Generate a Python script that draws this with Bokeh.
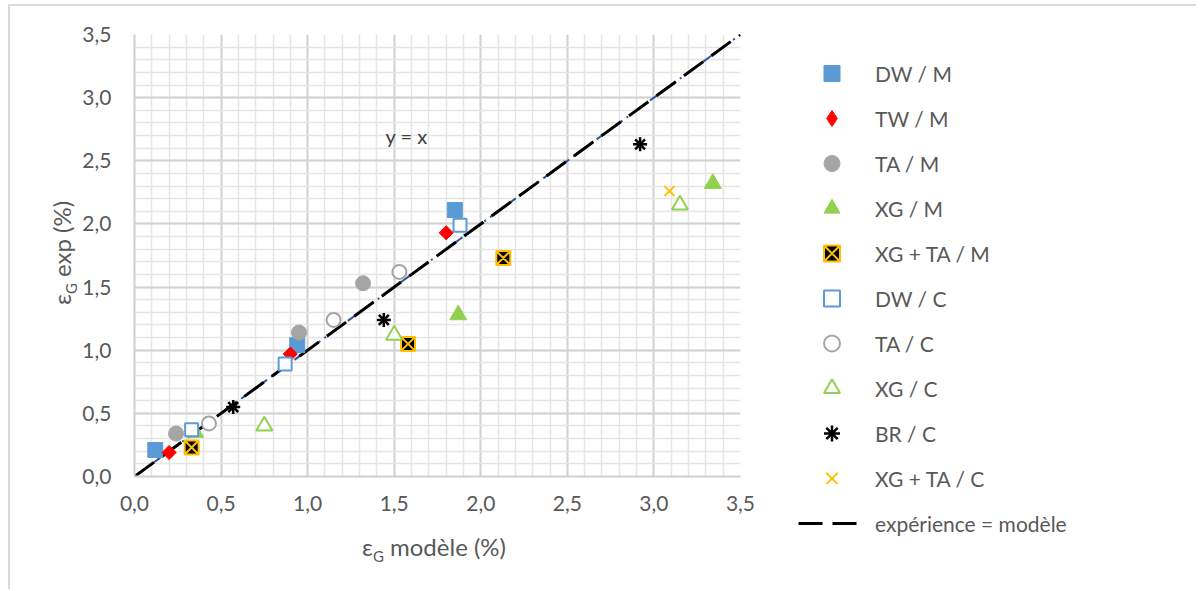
import numpy as np
from bokeh.plotting import figure
from bokeh.models import Legend, LegendItem, Label, FixedTicker, Range1d, Div
from bokeh.embed import file_html
from bokeh.resources import INLINE

# ---- data ----
dw_m_x = [0.12, 0.94, 1.85]
dw_m_y = [0.21, 1.04, 2.11]
tw_m_x = [0.20, 0.90, 1.80]
tw_m_y = [0.19, 0.97, 1.93]
ta_m_x = [0.24, 0.95, 1.32]
ta_m_y = [0.34, 1.14, 1.53]
xg_m_x = [0.35, 1.87, 3.34]
xg_m_y = [0.35, 1.28, 2.32]
xgta_m_x = [0.33, 1.58, 2.13]
xgta_m_y = [0.23, 1.05, 1.73]
dw_c_x = [0.33, 0.87, 1.88]
dw_c_y = [0.37, 0.89, 1.99]
ta_c_x = [0.43, 1.15, 1.53]
ta_c_y = [0.42, 1.24, 1.62]
xg_c_x = [0.75, 1.50, 3.15]
xg_c_y = [0.40, 1.12, 2.15]
br_c_x = [0.57, 1.44, 2.92]
br_c_y = [0.55, 1.24, 2.63]
xgta_c_x = [3.09]
xgta_c_y = [2.26]
ident_x = [0.0, 3.5]
ident_y = [0.0, 3.5]

tick_values = [0.0, 0.5, 1.0, 1.5, 2.0, 2.5, 3.0, 3.5]
tick_labels = ["0,0", "0,5", "1,0", "1,5", "2,0", "2,5", "3,0", "3,5"]
legend_labels = ["DW / M", "TW / M", "TA / M", "XG / M", "XG + TA / M",
                 "DW / C", "TA / C", "XG / C", "BR / C", "XG + TA / C",
                 "expérience = modèle"]
x_title = "ε<sub>G</sub> modèle (%)"
y_title = "ε<sub>G</sub> exp (%)"

FONT = "Lato"
TXT = "#595959"
BLUE = "#5B9BD5"
RED = "#FF0000"
GREY = "#A5A5A5"
GREEN = "#92D050"
GOLD = "#FFC000"

# marker styles shared by the chart and its legend
styles = [
    dict(marker="square", size=15, fill_color=BLUE, line_color=BLUE),
    dict(marker="square", size=10, angle=np.pi / 4, fill_color=RED, line_color=RED),
    dict(marker="circle", size=15, fill_color=GREY, line_color=GREY),
    dict(marker="triangle", size=17, fill_color=GREEN, line_color=GREEN),
    dict(marker="square_x", size=14, fill_color="black", line_color=GOLD, line_width=2),
    dict(marker="square", size=13, fill_color="white", line_color=BLUE, line_width=2),
    dict(marker="circle", size=14, fill_color="white", line_color=GREY, line_width=2),
    dict(marker="triangle", size=16, fill_color="white", line_color=GREEN, line_width=2),
    dict(marker="asterisk", size=14, line_color="black", line_width=2.5),
    dict(marker="x", size=14, line_color=GOLD, line_width=2),
]
# legend swatches ignore marker angle: use a diamond for the TW / M swatch
legend_styles = list(styles)
legend_styles[1] = dict(marker="diamond", size=16, fill_color=RED, line_color=RED)

series = [(dw_m_x, dw_m_y), (tw_m_x, tw_m_y), (ta_m_x, ta_m_y), (xg_m_x, xg_m_y),
          (xgta_m_x, xgta_m_y), (dw_c_x, dw_c_y), (ta_c_x, ta_c_y), (xg_c_x, xg_c_y),
          (br_c_x, br_c_y), (xgta_c_x, xgta_c_y)]
LINE_DASH = "24 10"

p = figure(width=1188, height=585, output_backend="svg", toolbar_location=None,
           x_range=Range1d(0, 3.5), y_range=Range1d(0, 3.5),
           min_border_left=124, min_border_right=458, min_border_top=28,
           min_border_bottom=115, margin=(4, 0, 0, 8),
           styles={"border-left": "2px solid #d9d9d9", "border-top": "2px solid #d9d9d9"})
p.outline_line_color = None
p.background_fill_color = "white"

minor = [round(v, 1) for v in np.arange(0, 3.51, 0.1)]
for ax in (p.xaxis[0], p.yaxis[0]):
    ax.ticker = FixedTicker(ticks=tick_values, minor_ticks=minor)
    ax.major_label_overrides = {t: l for t, l in zip(tick_values, tick_labels)}
    ax.major_label_text_font = FONT
    ax.major_label_text_font_size = "21px"
    ax.major_label_text_color = TXT
    ax.major_tick_line_color = None
    ax.minor_tick_line_color = None
    ax.axis_line_color = "#cfcfcf"
    ax.axis_line_width = 2
p.xaxis.major_label_standoff = 13
p.yaxis.major_label_standoff = 17

for g in (p.xgrid[0], p.ygrid[0]):
    g.grid_line_color = "#d2d2d2"
    g.grid_line_width = 2
    g.minor_grid_line_color = "#e5e5e5"
    g.minor_grid_line_width = 1.5

# identity line: blue dash-dot underneath, black long dash on top
p.line(ident_x, ident_y, line_color="#2F5597", line_width=2, line_dash="10 5 2 5")
p.line(ident_x, ident_y, line_color="black", line_width=3, line_dash=LINE_DASH)

for (sx, sy), st in zip(series, styles):
    p.scatter(sx, sy, **st)

# "y = x" annotation
p.add_layout(Label(x=1.45, y=2.70, text="y = x", text_font=FONT,
                   text_font_size="20px", text_color="#404040", text_baseline="middle"))

# ---- legend (separate canvas placed to the right of the plot area) ----
# its renderers use the same data, but its ranges keep them out of view
pl = figure(width=390, height=500, output_backend="svg", toolbar_location=None,
            x_range=Range1d(100, 101), y_range=Range1d(100, 101),
            x_axis_location=None, y_axis_location=None, min_border=0,
            styles={"position": "absolute", "left": "798px", "top": "53px"})
pl.outline_line_color = None
pl.background_fill_alpha = 0
pl.border_fill_alpha = 0
pl.grid.visible = False
leg_renderers = [pl.scatter(sx, sy, **st) for (sx, sy), st in zip(series, legend_styles)]
leg_renderers.append(pl.line(ident_x, ident_y, line_color="black", line_width=3,
                             line_dash=LINE_DASH))
items = [LegendItem(label=l, renderers=[r]) for l, r in zip(legend_labels, leg_renderers)]
legend = Legend(items=items, location="top_left", orientation="vertical",
                glyph_width=67, glyph_height=40, label_height=40, spacing=5,
                label_standoff=10, padding=0, margin=0,
                border_line_alpha=0, background_fill_alpha=0,
                label_text_font=FONT, label_text_font_size="21px", label_text_color=TXT)
pl.add_layout(legend, "center")

# ---- axis titles with subscript G ----
span_style = ("font-family: Lato; font-size: 24px; color: %s; white-space: nowrap; "
              "line-height: 28px;" % TXT)
sub_style = "font-size: 15px;"


def title_html(t):
    return '<span style="%s">%s</span>' % (
        span_style, t.replace("<sub>", '<sub style="%s">' % sub_style))


xdiv = Div(text=title_html(x_title), width=200, height=28,
           styles={"position": "absolute", "left": "362px", "top": "533px",
                   "margin": "0", "padding": "0"})
ydiv = Div(text=title_html(y_title), width=130, height=28,
           styles={"position": "absolute", "left": "48px", "top": "305px",
                   "transform-origin": "0 0", "transform": "rotate(-90deg)",
                   "margin": "0", "padding": "0"})

open("out.html", "w").write(file_html([p, pl, xdiv, ydiv], INLINE))
